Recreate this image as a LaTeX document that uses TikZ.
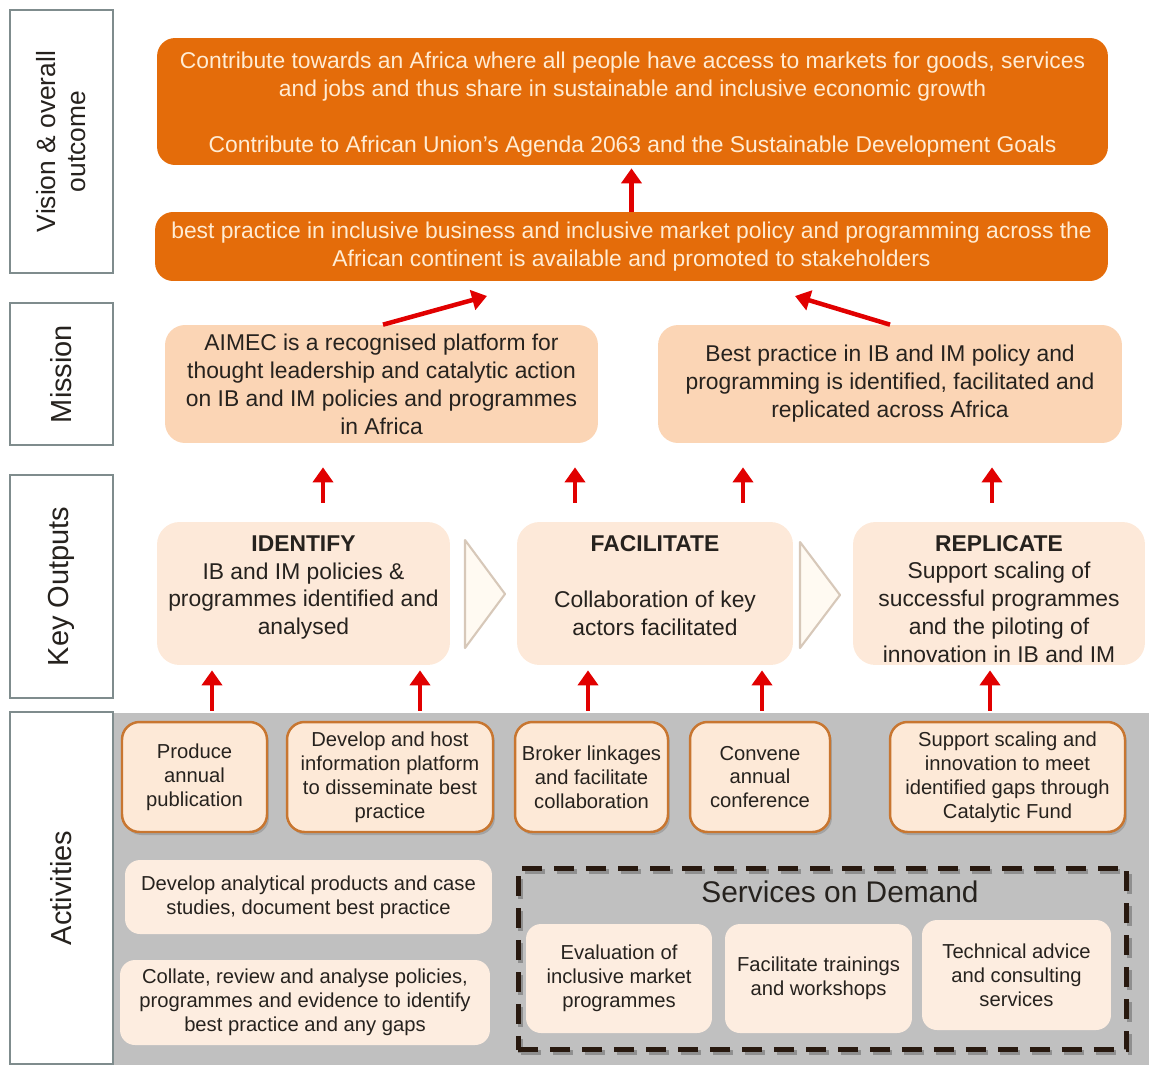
\documentclass[tikz,border=0pt]{standalone}
\usepackage{fontspec}
\setmainfont{Liberation Sans}
\usetikzlibrary{arrows.meta,shadows,positioning}
\definecolor{visorange}{RGB}{228,108,10}
\definecolor{cream}{RGB}{255,236,212}
\definecolor{missionfill}{RGB}{251,213,181}
\definecolor{outputfill}{RGB}{253,233,217}
\definecolor{actfill}{RGB}{253,233,215}
\definecolor{lowfill}{RGB}{253,237,224}
\definecolor{actborder}{RGB}{200,118,48}
\definecolor{greybg}{RGB}{192,192,192}
\definecolor{textdark}{RGB}{38,34,30}
\definecolor{lblborder}{RGB}{127,140,141}
\definecolor{arrowred}{RGB}{225,0,0}
\definecolor{dashbrown}{RGB}{40,25,15}
\definecolor{chevline}{RGB}{215,200,185}
\definecolor{chevfill}{RGB}{255,250,242}

\begin{document}
\begin{tikzpicture}[
    x=0.02cm, y=-0.02cm,
    every node/.style={font=\fontsize{13}{15.9}\selectfont, text=textdark, inner sep=1pt},
    lbl/.style={draw=lblborder, line width=0.7pt, fill=white, rotate=90, minimum height=2.06cm, align=center, font=\fontsize{16.5}{18}\selectfont},
    visbox/.style={fill=visorange, rounded corners=0.36cm, text=cream, align=center, minimum width=19.02cm},
    missbox/.style={fill=missionfill, rounded corners=0.4cm, align=center, minimum height=2.36cm},
    outbox/.style={fill=outputfill, rounded corners=0.45cm, minimum height=2.86cm},
    outtext/.style={align=center},
    actbox/.style={fill=actfill, draw=actborder, line width=1.4pt, rounded corners=0.35cm, align=center, minimum height=2.2cm,
      font=\fontsize{11.5}{13.6}\selectfont, drop shadow={shadow xshift=0.04cm, shadow yshift=-0.06cm, opacity=0.45}},
    lowbox/.style={fill=lowfill, rounded corners=0.3cm, align=center, font=\fontsize{11.5}{13.6}\selectfont},
    dashbox/.style={draw=dashbrown, line width=0.1cm, dash pattern=on 0.4cm off 0.24cm},
    chev/.style={draw=chevline, fill=chevfill, line width=1.2pt, line join=round},
    redarrow/.style={->, >={Triangle[width=0.4cm, length=0.3cm]}, draw=arrowred, line width=0.09cm}
  ]
  \useasboundingbox (0,0) rectangle (1149,1065);

  % grey band behind the activities
  \fill[greybg] (110,713) rectangle (1149,1065);

  % row labels
  \node[lbl, minimum width=5.26cm, font=\fontsize{15}{17}\selectfont] (vislbl) at (61.5,141.5) {Vision \& overall\\outcome};
  \node[lbl, minimum width=2.84cm] (mislbl) at (61.5,374) {Mission};
  \node[lbl, minimum width=4.46cm] (kolbl) at (61.5,586.5) {Key Outputs};
  \node[lbl, minimum width=7.04cm] (actlbl) at (61.5,888) {Activities};

  % vision and outcome
  \node[visbox, minimum height=2.54cm] (vision) at (632.5,101.5) {};
  \node[outtext, text=cream] at ([yshift=-0.06cm]vision.center)
    {Contribute towards an Africa where all people have access to markets for goods, services\\
     and jobs and thus share in sustainable and inclusive economic growth\\[15.9pt]
     Contribute to African Union’s Agenda 2063 and the Sustainable Development Goals};
  \node[visbox, minimum height=1.38cm, minimum width=19.06cm] (outcome) at (631.5,246.5)
    {best practice in inclusive business and inclusive market policy and programming across the\\
     African continent is available and promoted to stakeholders};

  % mission
  \node[missbox, minimum width=8.66cm] (misl) at (381.5,384)
    {AIMEC is a recognised platform for\\thought leadership and catalytic action\\on IB and IM policies and programmes\\in Africa};
  \node[missbox, minimum width=9.28cm] (misr) at (890,384)
    {Best practice in IB and IM policy and\\programming is identified, facilitated and\\replicated across Africa};

  % key outputs
  \node[outbox, minimum width=5.86cm] (ident) at (303.5,593.5) {};
  \node[outtext] at ([yshift=0.12cm]ident.center)
    {\textbf{IDENTIFY}\\IB and IM policies \&\\programmes identified and\\analysed};
  \node[outbox, minimum width=5.52cm] (facil) at (655,593.5) {};
  \node[outtext] at ([yshift=0.15cm]facil.center)
    {\textbf{FACILITATE}\\[15.9pt]Collaboration of key\\actors facilitated};
  \node[outbox, minimum width=5.84cm] (repl) at (999,593.5) {};
  \node[outtext] at ([yshift=-0.11cm]repl.center)
    {\textbf{REPLICATE}\\Support scaling of\\successful programmes\\and the piloting of\\innovation in IB and IM};
  \draw[chev] (465,540) -- (505,594) -- (465,648) -- cycle;
  \draw[chev] (800,542) -- (840,595) -- (800,648) -- cycle;

  % activities
  \node[actbox, minimum width=2.9cm] (pub) at (194.5,777) {Produce\\annual\\publication};
  \node[actbox, minimum width=4.12cm] (platf) at (390,777) {Develop and host\\information platform\\to disseminate best\\practice};
  \node[actbox, minimum width=3.06cm] (broker) at (591.5,777) {Broker linkages\\and facilitate\\collaboration};
  \node[actbox, minimum width=2.8cm] (convene) at (760,777) {Convene\\annual\\conference};
  \node[actbox, minimum width=4.7cm] (scaling) at (1007.5,777) {Support scaling and\\innovation to meet\\identified gaps through\\Catalytic Fund};

  \node[lowbox, minimum width=7.34cm, minimum height=1.48cm] (analytic) at (308.5,897)
    {Develop analytical products and case\\studies, document best practice};
  \node[lowbox, minimum width=7.4cm, minimum height=1.7cm] (collate) at (305,1002.5)
    {Collate, review and analyse policies,\\programmes and evidence to identify\\best practice and any gaps};

  % services on demand
  \node[dashbox, draw=black, opacity=0.25, minimum width=12.18cm, minimum height=3.64cm] (sodshadow) at (825,962) {};
  \node[dashbox, minimum width=12.18cm, minimum height=3.64cm] (sod) at (822.5,959) {};
  \node[font=\fontsize{17}{19}\selectfont] (sodtitle) at (840,892) {Services on Demand};
  \node[lowbox, minimum width=3.72cm, minimum height=2.18cm] (evalu) at (619,978.5)
    {Evaluation of\\inclusive market\\programmes};
  \node[lowbox, minimum width=3.74cm, minimum height=2.18cm] (train) at (818.5,978.5)
    {Facilitate trainings\\and workshops};
  \node[lowbox, minimum width=3.78cm, minimum height=2.2cm] (tech) at (1016.5,975)
    {Technical advice\\and consulting\\services};

  % arrows
  \coordinate (tipl) at (487,296);
  \coordinate (tipr) at (795,296);
  \draw[redarrow, shorten >=0.06cm] (outcome.north) -- (outcome.north |- vision.south);
  \draw[redarrow] ([xshift=0.03cm]misl.north) -- (tipl);
  \draw[redarrow] (misr.north) -- (tipr);
  \foreach \x/\a/\b in {323/ident/misl, 575/facil/misl, 743/facil/misr, 992/repl/misr}
    \draw[redarrow, shorten <=0.38cm, shorten >=0.48cm] (\a.north -| \x,0) -- (\b.south -| \x,0);
  \foreach \x/\a/\b in {212/pub/ident, 420/platf/ident, 588/broker/facil, 762/convene/facil, 990/scaling/repl}
    \draw[redarrow, shorten <=0.2cm, shorten >=0.1cm] (\a.north -| \x,0) -- (\b.south -| \x,0);

\end{tikzpicture}
\end{document}
